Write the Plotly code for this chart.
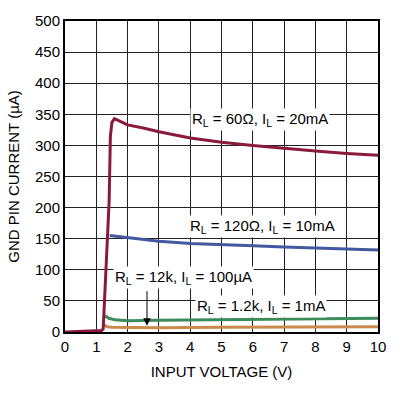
import plotly.graph_objects as go

# Data
red_x = [0, 0.5, 1.0, 1.17, 1.22, 1.32, 1.41, 1.45, 1.5, 1.58, 2, 2.5, 3, 4, 5, 6, 7, 8, 9, 10]
red_y = [0, 0.8, 1.8, 2.5, 5, 110, 210, 315, 337, 343, 333, 328, 322, 312, 305, 300, 295, 291, 287, 284]

blue_x = [1.43, 2, 3, 4, 5, 6, 7, 8, 9, 10]
blue_y = [155, 152, 146, 142.4, 140, 138.6, 136.5, 135, 133.4, 131.8]

green_x = [1.28, 1.4, 1.6, 2, 3, 4, 5, 6, 7, 8, 9, 10]
green_y = [26, 22, 19.5, 18, 19, 19.5, 20, 20.5, 21, 21.3, 21.7, 22]

orange_x = [1.25, 1.35, 1.5, 2, 3, 5, 7, 10]
orange_y = [11, 8.5, 7.5, 7, 7, 7.5, 8, 8.5]

x_ticks = list(range(0, 11))
y_ticks = list(range(0, 501, 50))

labels = [
    ("R<sub>L</sub> = 60Ω, I<sub>L</sub> = 20mA", 6.23, 341),
    ("R<sub>L</sub> = 120Ω, I<sub>L</sub> = 10mA", 6.3, 170),
    ("R<sub>L</sub> = 12k, I<sub>L</sub> = 100µA", 3.77, 87),
    ("R<sub>L</sub> = 1.2k, I<sub>L</sub> = 1mA", 6.27, 41.6),
]

FONT = "Liberation Sans, Arial, sans-serif"

fig = go.Figure()
fig.add_trace(go.Scatter(x=orange_x, y=orange_y, mode="lines",
                         line=dict(color="#c98a4c", width=3), showlegend=False))
fig.add_trace(go.Scatter(x=green_x, y=green_y, mode="lines",
                         line=dict(color="#3d8b5c", width=3), showlegend=False))
fig.add_trace(go.Scatter(x=blue_x, y=blue_y, mode="lines",
                         line=dict(color="#4358a0", width=3), showlegend=False))
fig.add_trace(go.Scatter(x=red_x, y=red_y, mode="lines",
                         line=dict(color="#8a1a3c", width=3), showlegend=False))

for text, lx, ly in labels:
    fig.add_annotation(x=lx, y=ly, text=text, showarrow=False,
                       bgcolor="white", borderpad=1,
                       font=dict(family=FONT, size=15, color="black"))

# arrow for 12k label
fig.add_annotation(x=2.62, y=10, ax=2.62, ay=68, xref="x", yref="y",
                   axref="x", ayref="y", text="", showarrow=True,
                   arrowhead=2, arrowsize=1.5, arrowwidth=1, arrowcolor="black")

fig.update_xaxes(range=[0, 10], tickvals=x_ticks, showgrid=True,
                 gridcolor="#222222", gridwidth=1, showline=True,
                 linecolor="black", linewidth=2, mirror=True, zeroline=False,
                 ticks="", tickfont=dict(family=FONT, size=15, color="black"),
                 title=dict(text="INPUT VOLTAGE (V)", standoff=12,
                            font=dict(family=FONT, size=15, color="black")))
fig.update_yaxes(range=[0, 500], tickvals=y_ticks, showgrid=True,
                 gridcolor="#222222", gridwidth=1, showline=True,
                 linecolor="black", linewidth=2, mirror=True, zeroline=False,
                 ticks="", tickfont=dict(family=FONT, size=15, color="black"),
                 title=dict(text="GND PIN CURRENT (µA)", standoff=12,
                            font=dict(family=FONT, size=15, color="black")))

fig.update_layout(width=398, height=397,
                  margin=dict(l=65, r=17, t=16, b=65),
                  plot_bgcolor="white", paper_bgcolor="white",
                  showlegend=False)

fig.write_html("out.html", config={"displayModeBar": False},
               post_script="document.body.style.margin='0';document.body.style.padding='0';")
